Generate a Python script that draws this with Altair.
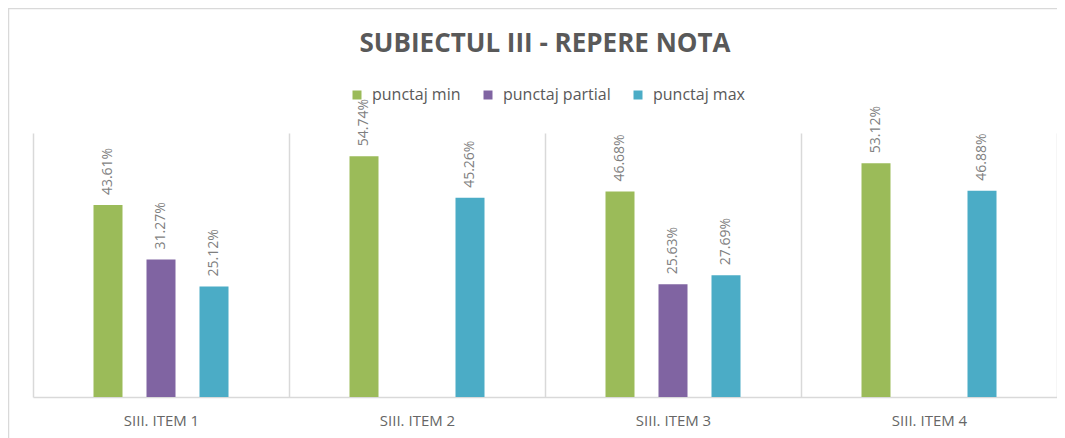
import altair as alt
import pandas as pd

items = ["SIII. ITEM 1", "SIII. ITEM 2", "SIII. ITEM 3", "SIII. ITEM 4"]
series = ["punctaj min", "punctaj partial", "punctaj max"]
punctaj_min = [43.61, 54.74, 46.68, 53.12]
punctaj_partial = [31.27, None, 25.63, None]
punctaj_max = [25.12, 45.26, 27.69, 46.88]
colors = ["#9BBB59", "#8064A2", "#4BACC6"]
title_text = "SUBIECTUL III - REPERE NOTA"

rows = []
for s, vals in zip(series, [punctaj_min, punctaj_partial, punctaj_max]):
    for it, v in zip(items, vals):
        if v is not None:
            rows.append({"item": it, "serie": s, "val": v, "label": f"{v:.2f}%"})
df = pd.DataFrame(rows)

W, H = 1024, 264

x = alt.X(
    "item:N", sort=items,
    scale=alt.Scale(paddingInner=0, paddingOuter=0),
    axis=alt.Axis(title=None, labelAngle=0, grid=True, tickBand="extent", ticks=False,
                  domainColor="#D9D9D9", domainWidth=1.5, gridColor="#D9D9D9", gridWidth=1.5,
                  labelFont="Open Sans", labelFontSize=15, labelColor="#666666", labelPadding=16),
)
xoff = alt.XOffset("serie:N", sort=series,
                   scale=alt.Scale(domain=series, range=[60.5, 195.5], paddingInner=0.4528, paddingOuter=0))
y = alt.Y("val:Q", scale=alt.Scale(domain=[0, 60]), axis=None)
color = alt.Color(
    "serie:N", sort=series,
    scale=alt.Scale(domain=series, range=colors),
    legend=alt.Legend(title=None, orient="none", legendX=316, legendY=-46, direction="horizontal",
                      symbolType="square", symbolSize=81, symbolStrokeWidth=0,
                      labelFont="Open Sans", labelFontSize=16, labelColor="#595959",
                      labelOffset=7, columnPadding=19, padding=0),
)

base = alt.Chart(df)
bars = base.mark_bar().encode(x=x, xOffset=xoff, y=y, color=color)
labels = base.mark_text(angle=270, align="left", baseline="middle", dx=10,
                        font="Open Sans", fontSize=14, color="#7F7F7F").encode(
    x=x, xOffset=xoff, y=y, text="label:N")

frame = alt.Chart(pd.DataFrame({"a": [0]})).mark_rect(fill=None, stroke="#D9D9D9", strokeWidth=1.5).encode(
    x=alt.value(-24.5), x2=alt.value(W + 60), y=alt.value(-124.5), y2=alt.value(H + 120))

chart = alt.layer(frame, bars, labels).properties(
    width=W, height=H,
    autosize=alt.AutoSizeParams(type="none"),
    padding={"left": 25, "top": 125, "right": 0, "bottom": 41},
    title=alt.TitleParams(title_text, font="Open Sans", fontSize=26, fontWeight="bold",
                          color="#595959", anchor="middle", baseline="alphabetic", offset=0, dy=70.25),
).configure(background="white").configure_view(stroke=None)

chart.save("out.html", embed_options={"renderer": "svg", "actions": False})
